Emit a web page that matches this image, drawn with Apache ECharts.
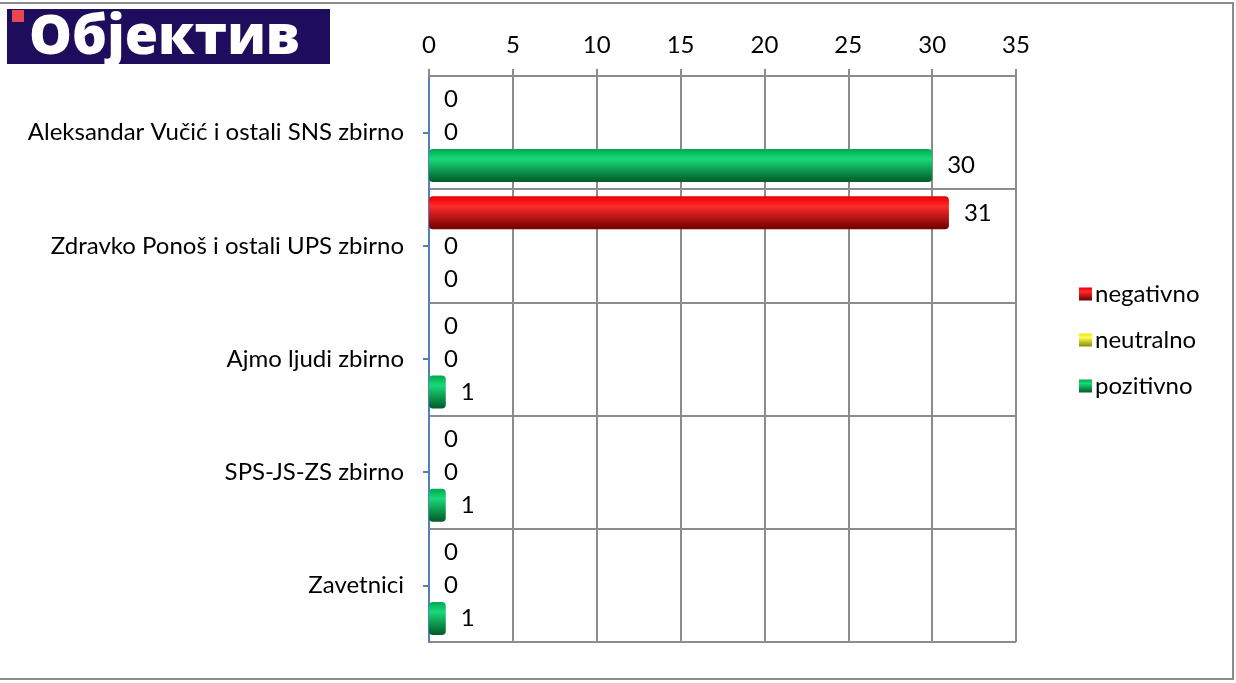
<!DOCTYPE html>
<html>
<head>
<meta charset="utf-8">
<script src="https://cdn.jsdelivr.net/npm/echarts@6/dist/echarts.min.js"></script>
<style>
  html, body { margin: 0; padding: 0; background: #fff; }
  #chart { width: 1236px; height: 683px; }
</style>
</head>
<body>
<div id="chart"></div>
<script>
const categories = [
  'Aleksandar Vučić i ostali SNS zbirno',
  'Zdravko Ponoš i ostali UPS zbirno',
  'Ajmo ljudi zbirno',
  'SPS-JS-ZS zbirno',
  'Zavetnici'
];
const seriesNames = ['negativno', 'neutralno', 'pozitivno'];
const negativno = [0, 31, 0, 0, 0];
const neutralno = [0, 0, 0, 0, 0];
const pozitivno = [30, 0, 1, 1, 1];
const xTicks = { min: 0, max: 35, interval: 5 };

const FONT = 'Lato';
const FS = 24;

function grad(top, mid, bottom) {
  return new echarts.graphic.LinearGradient(0, 0, 0, 1, [
    { offset: 0, color: mid },
    { offset: 0.3, color: top },
    { offset: 1, color: bottom }
  ]);
}

const colors = {
  negativno: grad('#ff2a2a', '#e80000', '#6e0000'),
  neutralno: grad('#ffff5a', '#e8e800', '#8a8a00'),
  pozitivno: grad('#19d977', '#00a850', '#005a28')
};

function makeSeries(name, data) {
  return {
    name: name,
    type: 'bar',
    data: data,
    barWidth: 33,
    barGap: '0%',
    itemStyle: { color: colors[name], borderRadius: 4 },
    label: {
      show: true,
      position: 'right',
      distance: 15,
      color: '#000',
      fontFamily: FONT,
      fontSize: FS
    },
    emphasis: { disabled: true }
  };
}

const chart = echarts.init(document.getElementById('chart'));
chart.setOption({
  animation: false,
  textStyle: { fontFamily: FONT },
  grid: { left: 429, right: 220, top: 76, bottom: 41, containLabel: false },
  legend: {
    orient: 'vertical',
    left: 1074,
    top: 277,
    itemWidth: 13,
    itemHeight: 13,
    itemGap: 22,
    icon: 'rect',
    selectedMode: false,
    textStyle: { fontFamily: FONT, fontSize: FS, color: '#000', padding: [0, 0, 0, -2] },
    data: seriesNames
  },
  xAxis: {
    type: 'value',
    position: 'top',
    min: xTicks.min,
    max: xTicks.max,
    interval: xTicks.interval,
    axisLine: { show: true, lineStyle: { color: '#8c8c8c', width: 2 } },
    axisTick: { show: true, length: 7, lineStyle: { color: '#8c8c8c', width: 2 } },
    axisLabel: { color: '#000', fontFamily: FONT, fontSize: FS, margin: 19 },
    splitLine: { show: true, lineStyle: { color: '#8c8c8c', width: 2 } }
  },
  yAxis: {
    type: 'category',
    inverse: true,
    data: categories,
    axisLine: { show: true, lineStyle: { color: '#4f81bd', width: 2 } },
    axisTick: { show: true, alignWithLabel: true, length: 6, lineStyle: { color: '#4f81bd', width: 2 } },
    axisLabel: { color: '#000', fontFamily: FONT, fontSize: FS, margin: 25 },
    splitLine: { show: true, lineStyle: { color: '#8c8c8c', width: 2 } }
  },
  series: [
    makeSeries('negativno', negativno),
    makeSeries('neutralno', neutralno),
    makeSeries('pozitivno', pozitivno)
  ],
  graphic: [
    {
      type: 'rect',
      shape: { x: -2, y: 3, width: 1235, height: 676 },
      style: { fill: 'none', stroke: '#8c8c8c', lineWidth: 2 },
      silent: true
    },
    {
      type: 'group',
      left: 7,
      top: 9,
      children: [
        { type: 'rect', shape: { x: 0, y: 0, width: 323, height: 55 }, style: { fill: '#1e0d5c' } },
        { type: 'rect', shape: { x: 5, y: 1, width: 12, height: 12 }, style: { fill: '#e8474f' } },
        {
          type: 'text',
          style: {
            x: 22, y: 30, text: 'Објектив', fill: '#ffffff',
            font: '800 54px "Open Sans"', verticalAlign: 'middle'
          }
        }
      ]
    }
  ]
});
</script>
</body>
</html>
